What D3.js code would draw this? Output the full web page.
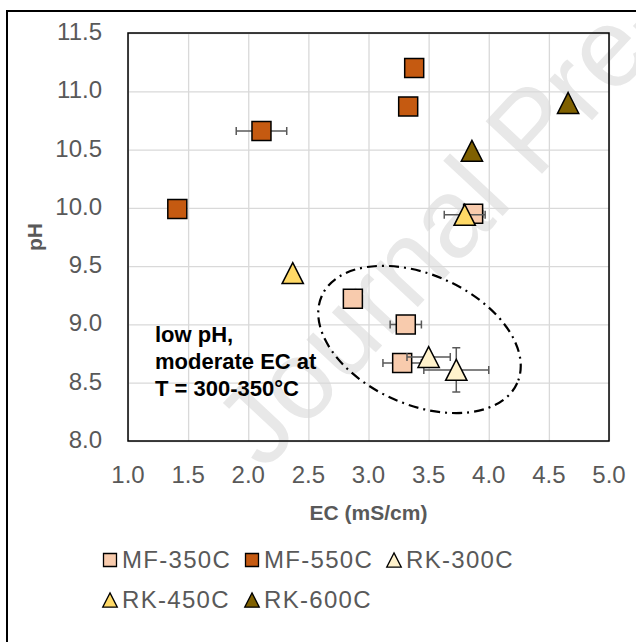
<!DOCTYPE html>
<html lang="en">
<head>
  <meta charset="UTF-8">
  <title>pH vs EC</title>
  <script src="https://d3js.org/d3.v7.min.js"></script>
  <style>
    body { margin: 0; background: #fff; }
    svg text { font-family: "Liberation Sans", Arial, sans-serif; }
    .tick-label { fill: #595959; font-size: 24px; }
    .axis-title { fill: #595959; font-size: 21px; font-weight: bold; }
    .legend-label { fill: #595959; font-size: 24px; letter-spacing: 1.3px; }
    .note { fill: #000; font-size: 22px; font-weight: bold; }
  </style>
</head>
<body>
<svg id="chart" width="636" height="642"></svg>

<script>
  // Series names
  const seriesNames = ["MF-350C", "MF-550C", "RK-300C", "RK-450C", "RK-600C"];

  // EC (mS/cm) and pH per series, with error bar half-widths
  const mf350EC = [3.87, 2.87, 3.31, 3.28];
  const mf350PH = [9.95, 9.22, 9.00, 8.67];
  const mf350ECerr = [0.08, 0, 0.13, 0.16];
  const mf350PHerr = [0, 0, 0, 0];

  const mf550EC = [3.38, 3.33, 2.11, 1.41];
  const mf550PH = [11.20, 10.87, 10.66, 9.99];
  const mf550ECerr = [0, 0, 0.21, 0];
  const mf550PHerr = [0, 0, 0, 0];

  const rk300EC = [3.50, 3.73];
  const rk300PH = [8.72, 8.61];
  const rk300ECerr = [0.18, 0.27];
  const rk300PHerr = [0, 0.19];

  const rk450EC = [3.80, 2.37];
  const rk450PH = [9.94, 9.44];
  const rk450ECerr = [0.17, 0];
  const rk450PHerr = [0, 0];

  const rk600EC = [4.66, 3.86];
  const rk600PH = [10.90, 10.49];
  const rk600ECerr = [0, 0];
  const rk600PHerr = [0, 0];

  // Tick labels
  const xTicks = ["1.0", "1.5", "2.0", "2.5", "3.0", "3.5", "4.0", "4.5", "5.0"];
  const yTicks = ["8.0", "8.5", "9.0", "9.5", "10.0", "10.5", "11.0", "11.5"];

  // Annotation
  const noteLines = ["low pH,", "moderate EC at", "T = 300-350\u00B0C"];
  const ellipseCenter = [3.424, 8.871]; // EC, pH

  // styles
  const fills = ["#F8CBAD", "#C55A11", "#FFF2CC", "#FFD966", "#7F6000"];
  const shapes = ["square", "square", "triangle", "triangle", "triangle"];

  const series = [
    [mf350EC, mf350PH, mf350ECerr, mf350PHerr],
    [mf550EC, mf550PH, mf550ECerr, mf550PHerr],
    [rk300EC, rk300PH, rk300ECerr, rk300PHerr],
    [rk450EC, rk450PH, rk450ECerr, rk450PHerr],
    [rk600EC, rk600PH, rk600ECerr, rk600PHerr]
  ].map((s, i) => ({
    name: seriesNames[i],
    fill: fills[i],
    shape: shapes[i],
    points: s[0].map((ec, j) => ({ ec: ec, ph: s[1][j], ecErr: s[2][j], phErr: s[3][j] }))
  }));

  const svg = d3.select("#chart");
  const margin = { top: 33, left: 128, right: 27, bottom: 201 };
  const width = +svg.attr("width") - margin.left - margin.right;
  const height = +svg.attr("height") - margin.top - margin.bottom;

  // outer figure frame (left and top lines only)
  svg.append("path")
    .attr("d", "M7,642 V11 H636")
    .attr("fill", "none")
    .attr("stroke", "#000")
    .attr("stroke-width", 2);

  // watermark, behind everything else
  svg.append("text")
    .attr("transform", "translate(264,472) rotate(-47)")
    .attr("font-size", 112)
    .attr("fill", "#e8e8e8")
    .text("Journal Pre-proof");

  const x = d3.scaleLinear().domain([+xTicks[0], +xTicks[xTicks.length - 1]]).range([0, width]);
  const y = d3.scaleLinear().domain([+yTicks[0], +yTicks[yTicks.length - 1]]).range([height, 0]);

  const chart = svg.append("g")
    .attr("transform", `translate(${margin.left},${margin.top})`);

  // gridlines
  chart.append("g")
    .call(d3.axisBottom(x).tickValues(xTicks.map(Number)).tickSize(height).tickFormat(""))
    .call(g => g.select(".domain").remove())
    .call(g => g.selectAll("line").attr("stroke", "#d9d9d9").attr("stroke-width", 1.3));
  chart.append("g")
    .call(d3.axisLeft(y).tickValues(yTicks.map(Number)).tickSize(-width).tickFormat(""))
    .call(g => g.select(".domain").remove())
    .call(g => g.selectAll("line").attr("stroke", "#d9d9d9").attr("stroke-width", 1.3));

  // plot frame
  chart.append("rect")
    .attr("width", width)
    .attr("height", height)
    .attr("fill", "none")
    .attr("stroke", "#000")
    .attr("stroke-width", 1.5);

  // tick labels
  chart.selectAll(".xlab")
    .data(xTicks)
    .enter().append("text")
    .attr("class", "tick-label")
    .attr("text-anchor", "middle")
    .attr("x", d => x(+d))
    .attr("y", height + 42)
    .text(d => d);

  chart.selectAll(".ylab")
    .data(yTicks)
    .enter().append("text")
    .attr("class", "tick-label")
    .attr("text-anchor", "end")
    .attr("x", -26)
    .attr("y", d => y(+d) + 7)
    .text(d => d);

  // axis titles
  svg.append("text")
    .attr("class", "axis-title")
    .attr("text-anchor", "middle")
    .attr("x", margin.left + width / 2)
    .attr("y", 520)
    .text("EC (mS/cm)");

  svg.append("text")
    .attr("class", "axis-title")
    .attr("text-anchor", "middle")
    .attr("transform", `translate(42,${margin.top + height / 2}) rotate(-90)`)
    .text("pH");

  // annotation ellipse + text
  chart.append("ellipse")
    .attr("transform", `translate(${x(ellipseCenter[0])},${y(ellipseCenter[1])}) rotate(24)`)
    .attr("rx", 107)
    .attr("ry", 65)
    .attr("fill", "none")
    .attr("stroke", "#000")
    .attr("stroke-width", 2.2)
    .attr("stroke-dasharray", "10,5,2,5");

  chart.append("g")
    .selectAll("text")
    .data(noteLines)
    .enter().append("text")
    .attr("class", "note")
    .attr("x", 27)
    .attr("y", (d, i) => 309 + i * 27)
    .text(d => d);

  // markers
  function markerPath(shape, s) {
    if (shape === "square") {
      return `M${-s / 2},${-s / 2}h${s}v${s}h${-s}Z`;
    }
    const w = s * 1.12, h = s * 1.1;
    return `M0,${-h / 2}L${w / 2},${h / 2}L${-w / 2},${h / 2}Z`;
  }

  const errColor = "#595959";
  series.forEach(s => {
    const g = chart.append("g");
    const pts = s.points;

    // x error bars
    const xe = pts.filter(p => p.ecErr > 0);
    g.selectAll(".xerr").data(xe).enter().append("path")
      .attr("d", p => {
        const x0 = x(p.ec - p.ecErr), x1 = x(p.ec + p.ecErr), yy = y(p.ph);
        return `M${x0},${yy}H${x1}M${x0},${yy - 4}v8M${x1},${yy - 4}v8`;
      })
      .attr("stroke", errColor)
      .attr("stroke-width", 1.5)
      .attr("fill", "none");

    // y error bars
    const ye = pts.filter(p => p.phErr > 0);
    g.selectAll(".yerr").data(ye).enter().append("path")
      .attr("d", p => {
        const y0 = y(p.ph - p.phErr), y1 = y(p.ph + p.phErr), xx = x(p.ec);
        return `M${xx},${y0}V${y1}M${xx - 4},${y0}h8M${xx - 4},${y1}h8`;
      })
      .attr("stroke", errColor)
      .attr("stroke-width", 1.5)
      .attr("fill", "none");

    g.selectAll(".pt").data(pts).enter().append("path")
      .attr("transform", p => `translate(${x(p.ec)},${y(p.ph)})`)
      .attr("d", markerPath(s.shape, 19))
      .attr("fill", s.fill)
      .attr("stroke", "#000")
      .attr("stroke-width", 1.5);
  });

  // legend
  const legendPos = [[110, 560], [252, 560], [394, 560], [110, 600], [252, 600]];
  const legend = svg.append("g");
  series.forEach((s, i) => {
    const [lx, ly] = legendPos[i];
    legend.append("path")
      .attr("transform", `translate(${lx},${ly})`)
      .attr("d", markerPath(s.shape, 13))
      .attr("fill", s.fill)
      .attr("stroke", "#000")
      .attr("stroke-width", 1.3);
    legend.append("text")
      .attr("class", "legend-label")
      .attr("x", lx + 12)
      .attr("y", ly + 8)
      .text(s.name);
  });
</script>
</body>
</html>
